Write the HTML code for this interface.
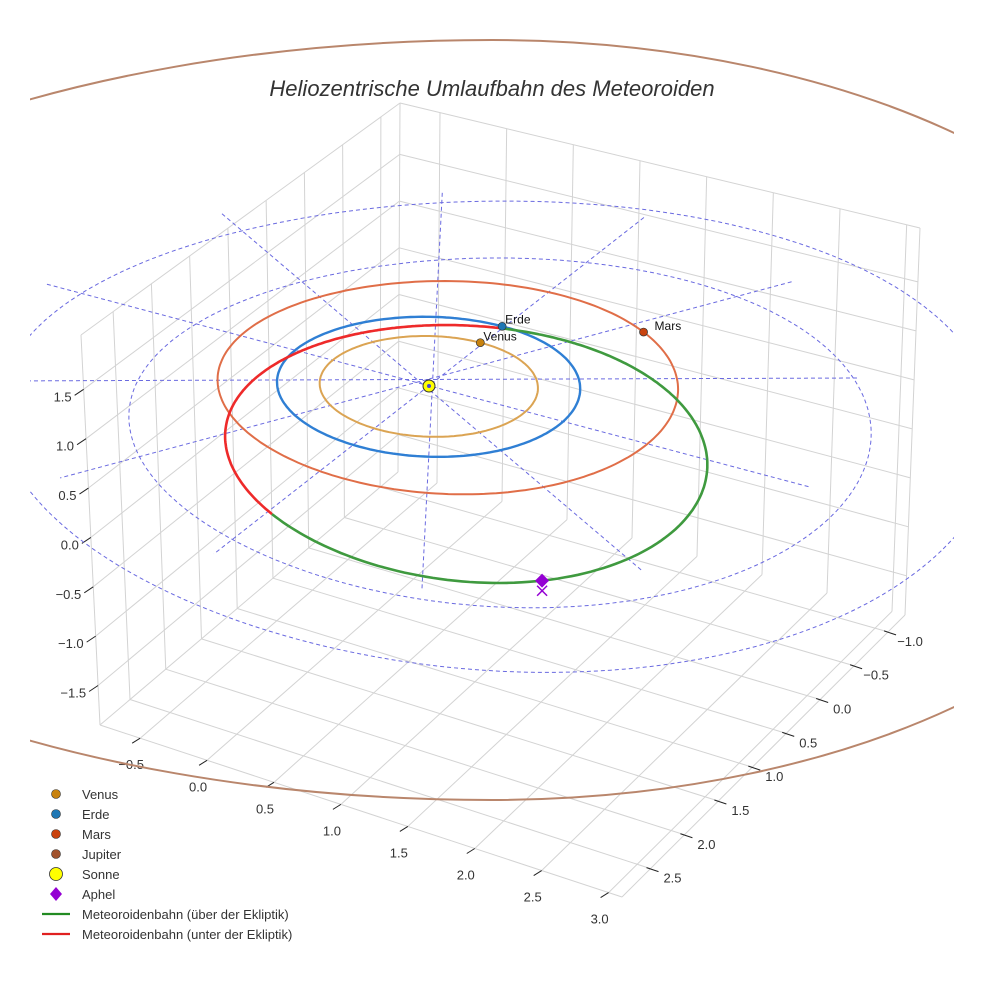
<!DOCTYPE html>
<html><head><meta charset="utf-8"><style>
html,body{margin:0;padding:0;background:#fff;}
svg{display:block;font-family:"Liberation Sans",sans-serif;}
</style></head><body>
<svg id="chart" width="984" height="984" viewBox="0 0 984 984" xmlns="http://www.w3.org/2000/svg">
<rect x="0" y="0" width="984" height="984" fill="#fff"/>
<defs><clipPath id="clipPlot"><rect x="30" y="0" width="924" height="984"/></clipPath></defs>
<g id="grid"></g>
<g id="ticks"></g>
<g id="data" clip-path="url(#clipPlot)"></g>
<text x="492" y="96" text-anchor="middle" font-size="22" font-style="italic" fill="#333">Heliozentrische Umlaufbahn des Meteoroiden</text>
<g id="legend" font-size="13" fill="#333">
  <g><circle cx="56" cy="794" r="4.5" fill="#c8820e" stroke="#333" stroke-width="0.6"/><text x="82" y="799">Venus</text></g>
  <g><circle cx="56" cy="814" r="4.5" fill="#1f77b4" stroke="#333" stroke-width="0.6"/><text x="82" y="819">Erde</text></g>
  <g><circle cx="56" cy="834" r="4.5" fill="#c9420e" stroke="#333" stroke-width="0.6"/><text x="82" y="839">Mars</text></g>
  <g><circle cx="56" cy="854" r="4.5" fill="#a0522d" stroke="#333" stroke-width="0.6"/><text x="82" y="859">Jupiter</text></g>
  <g><circle cx="56" cy="874" r="6.5" fill="#ffff00" stroke="#333" stroke-width="0.8"/><text x="82" y="879">Sonne</text></g>
  <g><polygon points="56,887 62,894 56,901 50,894" fill="#9400d3"/><text x="82" y="899">Aphel</text></g>
  <g><line x1="42" y1="914" x2="70" y2="914" stroke="#228b22" stroke-width="2.2"/><text x="82" y="919">Meteoroidenbahn (über der Ekliptik)</text></g>
  <g><line x1="42" y1="934" x2="70" y2="934" stroke="#e02020" stroke-width="2.2"/><text x="82" y="939">Meteoroidenbahn (unter der Ekliptik)</text></g>
</g>
</svg>
<script>
// ---- axis ranges & tick labels ----
const xTicks = [-0.5, 0.0, 0.5, 1.0, 1.5, 2.0, 2.5, 3.0];
const yTicks = [-1.0, -0.5, 0.0, 0.5, 1.0, 1.5, 2.0, 2.5];
const zTicks = [-1.5, -1.0, -0.5, 0.0, 0.5, 1.0, 1.5];
const xRange = [-0.8, 3.1];
const yRange = [-1.25, 2.92];
const zRange = [-1.9, 2.05];
// ---- orbit data (AU) ----
const orbitNames = ['venus', 'erde', 'mars'];
const orbitRadii = [0.72, 1.0, 1.52];
const orbitCenterX = [0, 0, 0.11];
const orbitCenterY = [0, 0, -0.07];
const planetAngles = [-90.8, -90, -60.6];
const refRingRadii = [2.45, 3.3];
const refRingCenter = [0.7, 0.27];
const refRayAngles = [-1, 32, 62.5, 91, 119, 148];
const refRayLength = [2.85];
// meteoroid orbit elements
const meteorP = [1.336];
const meteorE = [0.523];
const meteorPeriAngle = [46.2]; // aphelion direction (deg)
const meteorIncl = [1.2];

const NS = 'http://www.w3.org/2000/svg';
const Bf = [398, 472], Rf = [905, 615], Lf = [100, 725], Ff = [622, 897];
const HB = [2, -369], HR = [15, -387], HL = [-19, -390], HF = [-6, -408];
function P(x, y, z) {
  const u = (x - xRange[0]) / (xRange[1] - xRange[0]);
  const v = (y - yRange[0]) / (yRange[1] - yRange[0]);
  const w = [(1 - u) * (1 - v), u * (1 - v), (1 - u) * v, u * v];
  const t = (z - zRange[0]) / (zRange[1] - zRange[0]);
  const fx = Bf[0]*w[0] + Rf[0]*w[1] + Lf[0]*w[2] + Ff[0]*w[3];
  const fy = Bf[1]*w[0] + Rf[1]*w[1] + Lf[1]*w[2] + Ff[1]*w[3];
  const hx = HB[0]*w[0] + HR[0]*w[1] + HL[0]*w[2] + HF[0]*w[3];
  const hy = HB[1]*w[0] + HR[1]*w[1] + HL[1]*w[2] + HF[1]*w[3];
  return [fx + t * hx, fy + t * hy];
}
const P0 = P(0, 0, 0);
const shift = [429 - P0[0], 386 - P0[1]];
function D(x, y, z) { const p = P(x, y, z); return [p[0] + shift[0], p[1] + shift[1]]; }
function el(tag, attrs, parent) { const e = document.createElementNS(NS, tag); for (const k in attrs) e.setAttribute(k, attrs[k]); parent.appendChild(e); return e; }
function pathFrom(pts) { return pts.map((p, i) => (i ? 'L' : 'M') + p[0].toFixed(1) + ' ' + p[1].toFixed(1)).join(''); }

const grid = document.getElementById('grid');
const gstyle = { stroke: '#d3d3d3', 'stroke-width': 1, fill: 'none' };
function gline(a, b, name) {
  const l = el('line', Object.assign({ x1: a[0], y1: a[1], x2: b[0], y2: b[1] }, gstyle), grid);
  
  
}
const [x0, x1] = xRange, [y0, y1] = yRange, [z0, z1] = zRange;
[y0, ...yTicks, y1].forEach(y => gline(P(x0, y, z0), P(x0, y, z1), 'left-wall-gridline'));
[...zTicks, z1].forEach(z => gline(P(x0, y0, z), P(x0, y1, z), 'left-wall-gridline'));
[...xTicks, x1].forEach(x => gline(P(x, y0, z0), P(x, y0, z1), 'back-wall-gridline'));
[...zTicks, z1].forEach(z => gline(P(x0, y0, z), P(x1, y0, z), 'back-wall-gridline'));
[x0, ...xTicks, x1].forEach(x => gline(P(x, y0, z0), P(x, y1, z0), 'floor-gridline'));
[...yTicks, y1].forEach(y => gline(P(x0, y, z0), P(x1, y, z0), 'floor-gridline'));

// ticks & labels
const tk = document.getElementById('ticks');
function tick(a, d, name) {
  const l = el('line', { x1: a[0], y1: a[1], x2: a[0] + d[0], y2: a[1] + d[1], stroke: '#222', 'stroke-width': 1 }, tk);
  
  
}
function label(p, txt, anchor, name) {
  const t = el('text', { x: p[0], y: p[1], 'text-anchor': anchor, 'font-size': 13, fill: '#333' }, tk);
  t.textContent = txt;
  
  
}
const fmt = v => (v < 0 ? '\u2212' : '') + Math.abs(v).toFixed(1);
xTicks.forEach(x => { const p = P(x, y1, z0); tick(p, [-8, 5], 'x-tick'); label([p[0] - 9, p[1] + 31], fmt(x), 'middle', 'x-tick-label'); });
yTicks.forEach(y => { const p = P(x1, y, z0); tick([p[0] - 4, p[1] - 1], [12, 4], 'y-tick'); label([p[0] + 22, p[1] + 14], fmt(y), 'middle', 'y-tick-label'); });
zTicks.forEach(z => { const p = P(x0, y1, z); tick(p, [-9, 6], 'z-tick'); label([p[0] - 12, p[1] + 12], fmt(z), 'end', 'z-tick-label'); });

// data
const dg = document.getElementById('data');
function ringPts(cx, cy, r, n) { const pts = []; for (let i = 0; i <= n; i++) { const a = i / n * 2 * Math.PI; pts.push(D(cx + r * Math.cos(a), cy + r * Math.sin(a), 0)); } return pts; }
// Jupiter orbit (perspective-distorted, drawn as two half-ellipses)
let e = el('path', { d: 'M492 40 A705 380 0 0 1 492 800 A860 380 0 0 1 492 40', stroke: '#b9866c', 'stroke-width': 2, fill: 'none' }, dg);


refRingRadii.forEach(r => {
  const p = el('path', { d: pathFrom(ringPts(refRingCenter[0], refRingCenter[1], r, 240)), stroke: '#6a6ae0', 'stroke-width': 1, 'stroke-dasharray': '4 3', fill: 'none' }, dg);
  
  
});
refRayAngles.forEach(a => {
  const rad = a * Math.PI / 180, L = refRayLength[0];
  const s = D(-L * Math.cos(rad), -L * Math.sin(rad), 0), t = D(L * Math.cos(rad), L * Math.sin(rad), 0);
  const l = el('line', { x1: s[0], y1: s[1], x2: t[0], y2: t[1], stroke: '#6a6ae0', 'stroke-width': 1, 'stroke-dasharray': '4 3' }, dg);
  
  
});
const orbitColors = ['#dba453', '#2f7fd4', '#e06e48'];
const planetColors = ['#c8820e', '#1f77b4', '#c9420e'];
orbitNames.forEach((n, i) => {
  const p = el('path', { d: pathFrom(ringPts(orbitCenterX[i], orbitCenterY[i], orbitRadii[i], 240)), stroke: orbitColors[i], 'stroke-width': n === 'erde' ? 2.4 : 2, fill: 'none' }, dg);
  
  
});
function meteor(thDeg) {
  const th = thDeg * Math.PI / 180, ph = meteorPeriAngle[0] * Math.PI / 180;
  const r = meteorP[0] / (1 - meteorE[0] * Math.cos(th - ph));
  const inc = meteorIncl[0] * Math.PI / 180;
  return [r * Math.cos(th), r * Math.sin(th), r * Math.cos(th) * Math.sin(inc)];
}
function meteorPts(a, b) { const pts = []; for (let t = a; t <= b + 1e-9; t += 1) { const m = meteor(t); pts.push(D(m[0], m[1], m[2])); } return pts; }
e = el('path', { d: pathFrom(meteorPts(90, 270)), stroke: '#ee2a2a', 'stroke-width': 2.6, fill: 'none' }, dg);


e = el('path', { d: pathFrom(meteorPts(-90, 90)), stroke: '#3f9a3f', 'stroke-width': 2.6, fill: 'none' }, dg);


const planetLabels = ['Venus', 'Erde', 'Mars'];
const labelOff = [[3, -2], [3, -3], [11, -2]];
orbitNames.forEach((n, i) => {
  const a = planetAngles[i] * Math.PI / 180;
  const p = D(orbitCenterX[i] + orbitRadii[i] * Math.cos(a), orbitCenterY[i] + orbitRadii[i] * Math.sin(a), 0);
  const c = el('circle', { cx: p[0], cy: p[1], r: 4, fill: planetColors[i], stroke: '#333', 'stroke-width': 0.7 }, dg);
  
  
  const t = el('text', { x: p[0] + labelOff[i][0], y: p[1] + labelOff[i][1], 'font-size': 12, fill: '#111' }, dg);
  t.textContent = planetLabels[i];
  
  
});
const sp = D(0, 0, 0);
e = el('circle', { cx: sp[0], cy: sp[1], r: 6, fill: '#ffff00', stroke: '#333', 'stroke-width': 1 }, dg);


e = el('circle', { cx: sp[0], cy: sp[1], r: 2, fill: '#4a4ad0' }, dg);


const am = meteor(meteorPeriAngle[0]);
const ap = D(am[0], am[1], am[2]), ax = D(am[0], am[1], 0);
e = el('path', { d: `M${ax[0]-5} ${ax[1]+1}L${ax[0]+5} ${ax[1]+11}M${ax[0]+5} ${ax[1]+1}L${ax[0]-5} ${ax[1]+11}`, stroke: '#9400d3', 'stroke-width': 1.5 }, dg);


e = el('polygon', { points: `${ap[0]},${ap[1]-7} ${ap[0]+7},${ap[1]} ${ap[0]},${ap[1]+7} ${ap[0]-7},${ap[1]}`, fill: '#9400d3' }, dg);


</script>
</body></html>
